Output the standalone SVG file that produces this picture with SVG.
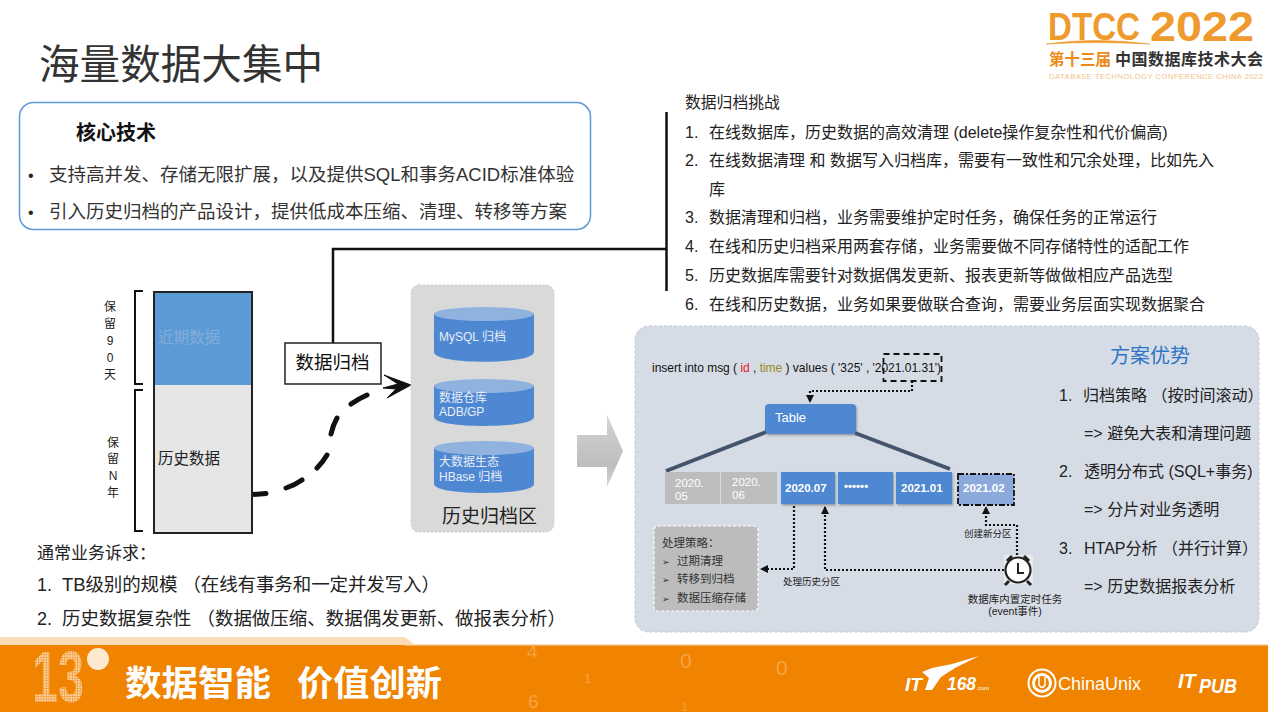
<svg xmlns="http://www.w3.org/2000/svg" width="1268" height="712" viewBox="0 0 1268 712">
<defs>
<marker id="ah2" markerWidth="9" markerHeight="9" refX="7" refY="4" orient="auto" markerUnits="userSpaceOnUse"><path d="M0,0L8,4L0,8z" fill="#111"/></marker>
<filter id="sh" x="-10%" y="-10%" width="125%" height="125%"><feDropShadow dx="1" dy="1.5" stdDeviation="1.2" flood-color="#333" flood-opacity=".4"/></filter>
<filter id="bl" x="-5%" y="-5%" width="110%" height="110%"><feGaussianBlur stdDeviation=".35"/></filter>
<pattern id="dots" width="2.600" height="2.600" patternUnits="userSpaceOnUse"><rect width="2.600" height="2.600" fill="#f29a33"/><rect width="1.900" height="1.900" fill="#fbd5a6"/></pattern>
<linearGradient id="ag" x1="0" x2="0" y1="0" y2="1"><stop offset="0" stop-color="#d4d4d4"/><stop offset=".7" stop-color="#bdbdbd"/><stop offset="1" stop-color="#d8d8d8"/></linearGradient>
</defs>
<style>
text{font-family:"Liberation Sans","Noto Sans CJK SC",sans-serif;fill:#222}
.cjk{font-family:"Noto Sans CJK SC","Liberation Sans",sans-serif}
.b{font-size:16px}
.c{font-size:16px}
.s{font-size:9.5px}
.wh{fill:#fff}
.pb{fill:#4f88d2;filter:url(#sh)}
.pg{fill:#bdbdbd}
.db{fill:#4f88d2}.dbt{fill:#8fb2df}
.dt{font-size:12px;fill:#e8eef8}
.dot{fill:none;stroke:#111;stroke-width:2.200;stroke-dasharray:2 2}
.dash{fill:none;stroke:#111;stroke-width:1.800;stroke-dasharray:6 4}
.side{font-size:12px;text-anchor:middle;fill:#222}
.br{fill:none;stroke:#111;stroke-width:2}
.thick{stroke:#44546a;stroke-width:4;fill:none}
.st{font-size:11.500px;fill:#333}
.wm{fill:#f6a546}
</style>

<g id="logo">
<text x="1048" y="40" font-size="39" font-weight="700" style="fill:#ef9a2d" textLength="92" lengthAdjust="spacingAndGlyphs">DTCC</text>
<text x="1150" y="41" font-size="42" font-weight="700" style="fill:#ef9a2d" textLength="104" lengthAdjust="spacingAndGlyphs">2022</text>
<path d="M1046 44Q1095 37 1150 44Q1095 41 1046 44z" fill="#ef9a2d" stroke="#ef9a2d" stroke-width=".6"/>
<text x="1049" y="65" font-size="15.500" font-weight="700" class="cjk" style="fill:#ec8a1a">第十三届</text>
<text x="1115" y="65" font-size="16" font-weight="700" class="cjk" style="fill:#333" textLength="148">中国数据库技术大会</text>
<text x="1049" y="79" font-size="7.500" style="fill:#f2c28a" textLength="214">DATABASE TECHNOLOGY CONFERENCE CHINA 2022</text>
</g>

<text id="title" x="39" y="79" font-size="40.600" class="cjk" style="fill:#333">海量数据大集中</text>

<g id="core">
<rect x="19.500" y="102.500" width="571" height="127" rx="14" fill="#fff" stroke="#5b9bd5" stroke-width="1.500"/>
<text x="76" y="140" font-size="20" font-weight="700" class="cjk" style="fill:#111">核心技术</text>
<text x="28" y="181" font-size="16">•</text>
<text x="49" y="181" font-size="18.500" style="fill:#333">支持高并发、存储无限扩展，以及提供SQL和事务ACID标准体验</text>
<text x="28" y="218" font-size="16">•</text>
<text x="49" y="218" font-size="18.500" style="fill:#333">引入历史归档的产品设计，提供低成本压缩、清理、转移等方案</text>
</g>

<g id="challenges">
<text x="685" y="108" font-size="15.800">数据归档挑战</text>
<text x="685" y="138" class="b">1.</text><text x="709" y="138" class="b">在线数据库，历史数据的高效清理 (delete操作复杂性和代价偏高)</text>
<text x="685" y="166" class="b">2.</text><text x="709" y="166" class="b">在线数据清理 和 数据写入归档库，需要有一致性和冗余处理，比如先入</text>
<text x="709" y="195" class="b">库</text>
<text x="685" y="223" class="b">3.</text><text x="709" y="223" class="b">数据清理和归档，业务需要维护定时任务，确保任务的正常运行</text>
<text x="685" y="252" class="b">4.</text><text x="709" y="252" class="b">在线和历史归档采用两套存储，业务需要做不同存储特性的适配工作</text>
<text x="685" y="281" class="b">5.</text><text x="709" y="281" class="b">历史数据库需要针对数据偶发更新、报表更新等做做相应产品选型</text>
<text x="685" y="310" class="b">6.</text><text x="709" y="310" class="b">在线和历史数据，业务如果要做联合查询，需要业务层面实现数据聚合</text>
</g>

<g id="connectors">
<path d="M666.500 112V291" fill="none" stroke="#111" stroke-width="2.500"/>
<path d="M333 343V249H666" fill="none" stroke="#111" stroke-width="2.500"/>
<path d="M249 494.500Q258 494.500 266 493.500M286 488Q295 485 302 480M317 468Q323 462 327 455M331 434Q333 425 337 418M351 404Q358 399 367 395" fill="none" stroke="#111" stroke-width="5" stroke-linecap="round"/>
<path d="M384 375L411 385L387 398L396 389L383 388L398 384z" fill="#111" stroke="#111" stroke-width="1" stroke-linejoin="round"/>
</g>

<g id="storage">
<rect x="154" y="292" width="98" height="98" fill="#5b9bd5"/>
<rect x="154" y="385" width="98" height="148" fill="#e6e6e6"/>
<rect x="154" y="292" width="98" height="241" fill="none" stroke="#222" stroke-width="2"/>
<text x="158" y="343" font-size="15.500" style="fill:#85acdc">近期数据</text>
<text x="158" y="464" font-size="15.500" style="fill:#222">历史数据</text>
<path class="br" d="M143 291H135V384H143M143 390H135V531H143"/>
<text class="side" x="110" y="311">保</text><text class="side" x="110" y="328">留</text><text class="side" x="110" y="345">9</text><text class="side" x="110" y="362">0</text><text class="side" x="110" y="379">天</text>
<text class="side" x="113" y="447">保</text><text class="side" x="113" y="463">留</text><text class="side" x="113" y="480">N</text><text class="side" x="113" y="497">年</text>
</g>

<g id="archive-label">
<rect x="285" y="343" width="96" height="41" fill="#fff" stroke="#222" stroke-width="1.500"/>
<text x="332.500" y="369" font-size="18.500" text-anchor="middle" style="fill:#111">数据归档</text>
</g>

<g id="archive-zone">
<rect x="411" y="285" width="143" height="247" rx="8" fill="#d9d9d9" stroke="#ccc" stroke-dasharray="2 2"/>
<path class="db" d="M434 314V352C434 365 534 365 534 352V314z"/><ellipse class="dbt" cx="484" cy="314" rx="50" ry="7"/>
<text class="dt" x="439" y="341">MySQL 归档</text>
<path class="db" d="M434 386V417C434 429 534 429 534 417V386z"/><ellipse class="dbt" cx="484" cy="386" rx="50" ry="7"/>
<text class="dt" x="439" y="402">数据仓库</text><text class="dt" x="439" y="416">ADB/GP</text>
<path class="db" d="M434 448V484C434 496 534 496 534 484V448z"/><ellipse class="dbt" cx="484" cy="448" rx="50" ry="7"/>
<text class="dt" x="439" y="466">大数据生态</text><text class="dt" x="439" y="481">HBase 归档</text>
<text x="442" y="523" font-size="19" style="fill:#222">历史归档区</text>
</g>

<g id="needs">
<text x="37" y="559" font-size="17">通常业务诉求：</text>
<text x="37" y="591" font-size="18">1.</text><text x="62" y="591" font-size="18.500" textLength="378">TB级别的规模 （在线有事务和一定并发写入）</text>
<text x="37" y="625" font-size="18">2.</text><text x="62" y="625" font-size="18.500" textLength="504">历史数据复杂性 （数据做压缩、数据偶发更新、做报表分析）</text>
</g>

<path id="big-arrow" d="M577 435H607V415L623 451L607 487V467H577z" fill="url(#ag)"/>

<g id="solution">
<rect x="635" y="326" width="624" height="306" rx="14" fill="#d6dce6" stroke="#c3c9d3" stroke-dasharray="3 2"/>
<text x="652" y="372" font-size="12" textLength="289" style="fill:#111">insert into msg ( <tspan style="fill:#e01b1b">id</tspan> , <tspan style="fill:#9a8a20">time</tspan> ) values ( '325' , '2021.01.31')</text>
<rect x="883.500" y="354" width="58" height="27" class="dash"/>
<path class="dot" d="M912 381V391H810V402" marker-end="url(#ah2)"/>

<rect x="765" y="404" width="91" height="30" rx="4" class="pb"/>
<text x="775" y="422" font-size="13" class="wh">Table</text>
<path class="thick" d="M766 432L666 471M855 433L950 469"/>

<rect x="665" y="472" width="55" height="32" class="pg"/><rect x="721" y="472" width="56" height="32" class="pg"/>
<text x="675" y="487" font-size="11.500" class="wh">2020.</text><text x="675" y="500" font-size="11.500" class="wh">05</text>
<text x="732" y="486" font-size="11.500" class="wh">2020.</text><text x="732" y="499" font-size="11.500" class="wh">06</text>
<rect x="781" y="472" width="54" height="32" class="pb"/><rect x="838" y="472" width="55" height="32" class="pb"/><rect x="896" y="472" width="56" height="32" class="pb"/>
<text x="785" y="492" font-size="11.500" font-weight="700" class="wh">2020.07</text>
<text x="844" y="490" font-size="11.500" font-weight="700" class="wh">••••••</text>
<text x="901" y="492" font-size="11.500" font-weight="700" class="wh">2021.01</text>
<rect x="958" y="474" width="56" height="31" fill="#8ba9db" stroke="#111" stroke-width="1.800" stroke-dasharray="6 2 2 2"/>
<text x="963" y="492" font-size="11.500" font-weight="700" class="wh">2021.02</text>

<path class="dot" d="M794 506V569H761" marker-end="url(#ah2)"/>
<path class="dot" d="M1004 570H825V507" marker-end="url(#ah2)"/>
<path class="dot" d="M1017 555V525H986V507" marker-end="url(#ah2)"/>

<rect x="654" y="526" width="104" height="85" rx="4" fill="#bcbcbc" stroke="#fff" stroke-width="1.200" stroke-dasharray="3 2"/>
<text x="662" y="547" class="st">处理策略：</text>
<text x="662" y="565" font-size="9" style="fill:#333">➢</text><text x="677" y="565" class="st">过期清理</text>
<text x="662" y="583" font-size="9" style="fill:#333">➢</text><text x="677" y="583" class="st">转移到归档</text>
<text x="662" y="602" font-size="9" style="fill:#333">➢</text><text x="677" y="602" class="st">数据压缩存储</text>

<text x="783" y="585" class="s" style="fill:#222">处理历史分区</text>
<text x="964" y="537" class="s" style="fill:#222">创建新分区</text>

<g id="clock">
<rect x="1004" y="555" width="29" height="29" fill="#e8eaee"/>
<path d="M1007 561L1012 556M1029 561L1024 556M1009 581L1005 585M1027 581L1031 585" stroke="#222" stroke-width="3"/>
<circle cx="1018" cy="570" r="12.500" fill="#fff" stroke="#222" stroke-width="2.200"/>
<path d="M1018 563V573H1024" fill="none" stroke="#222" stroke-width="2"/>
</g>
<text x="1015" y="603" font-size="10.500" text-anchor="middle" style="fill:#222">数据库内置定时任务</text>
<text x="1015" y="615" font-size="10.500" text-anchor="middle" style="fill:#222">(event事件)</text>

<text x="1110" y="363" font-size="20" style="fill:#2f75c4">方案优势</text>
<text x="1059" y="401" class="c">1.</text><text x="1083" y="401" class="c">归档策略 （按时间滚动）</text>
<text x="1084" y="439" class="c">=&gt; 避免大表和清理问题</text>
<text x="1059" y="477" class="c">2.</text><text x="1084" y="477" class="c">透明分布式 (SQL+事务)</text>
<text x="1084" y="515" class="c">=&gt; 分片对业务透明</text>
<text x="1059" y="554" class="c">3.</text><text x="1084" y="554" class="c">HTAP分析 （并行计算）</text>
<text x="1084" y="592" class="c">=&gt; 历史数据报表分析</text>
</g>

<g id="footer">
<path d="M0 637H405L415 645H0z" fill="#fbdcb8"/>
<rect x="0" y="645" width="1268" height="67" fill="#f08300"/>
<rect x="405" y="644" width="863" height="1.500" fill="#fbdcb8"/>
<text x="527" y="658" font-size="19" class="wm">4</text>
<text x="584" y="683" font-size="13" class="wm">1</text>
<text x="528" y="708" font-size="19" class="wm">6</text>
<text x="680" y="668" font-size="21" class="wm">0</text>
<text x="776" y="675" font-size="21" class="wm">0</text>
<text x="682" y="711" font-size="10" class="wm">1</text>
<text x="32" y="702" font-size="72" font-weight="700" style="fill:url(#dots)" textLength="52" lengthAdjust="spacingAndGlyphs">13</text>
<circle cx="98" cy="659" r="11" fill="#fde9d0"/>
<text x="125" y="696" font-size="35" font-weight="700" class="cjk wh" textLength="146" lengthAdjust="spacingAndGlyphs">数据智能</text>
<text x="297" y="696" font-size="35" font-weight="700" class="cjk wh" textLength="145" lengthAdjust="spacingAndGlyphs">价值创新</text>
<path d="M922 672L932 668L952 664L979 656L955 668L941 677L932 690H925L929 678z" fill="#fff"/>
<text x="905" y="691" font-size="19" font-weight="700" font-style="italic" class="wh">IT</text>
<text x="947" y="690" font-size="19" font-weight="700" font-style="italic" class="wh" textLength="29" lengthAdjust="spacingAndGlyphs">168</text>
<text x="976" y="690" font-size="6" class="wh">.com</text>
<circle cx="1042" cy="683" r="13.500" fill="none" stroke="#fff" stroke-width="2"/><circle cx="1042" cy="683" r="8.500" fill="none" stroke="#fff" stroke-width="3"/><path d="M1039 677V685Q1042 690 1045 685V677" fill="none" stroke="#fff" stroke-width="1.500"/>
<text x="1058" y="690" font-size="19" class="wh" textLength="83" lengthAdjust="spacingAndGlyphs">ChinaUnix</text>
<text x="1178" y="688" font-size="20" font-weight="700" font-style="italic" class="wh">IT</text>
<text x="1199" y="693" font-size="20" font-weight="700" font-style="italic" class="wh" textLength="38" lengthAdjust="spacingAndGlyphs">PUB</text>
</g>
</svg>
